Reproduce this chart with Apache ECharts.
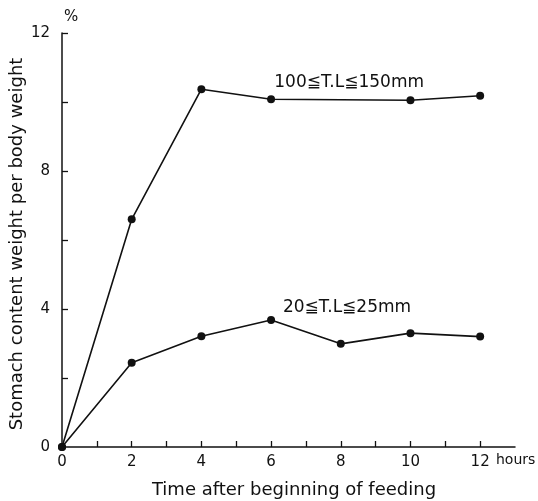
<!DOCTYPE html>
<html>
<head>
<meta charset="utf-8">
<script src="https://cdn.jsdelivr.net/npm/echarts@6/dist/echarts.min.js"></script>
<style>html,body{margin:0;padding:0;background:#fff;}#c{width:538px;height:501px;}</style>
</head>
<body>
<div id="c"></div>
<script>
const hours = [0, 2, 4, 6, 10, 12];
const large = [0, 6.6, 10.37, 10.08, 10.05, 10.18];
const hoursSmall = [0, 2, 4, 6, 8, 10, 12];
const small = [0, 2.44, 3.21, 3.68, 2.99, 3.3, 3.2];
const xTickValues = [1,2,3,4,5,6,7,8,9,10,11,12];
const xLabelValues = [0,2,4,6,8,10,12];
const yTickValues = [2,4,6,8,10,12];
const yLabelValues = [0,4,8,12];
const largeLabel = '100≦T.L≦150mm';
const smallLabel = '20≦T.L≦25mm';
const xTitle = 'Time after beginning of feeding';
const yTitle = 'Stomach content weight per body weight';

const font = 'DejaVu Sans';
const chart = echarts.init(document.getElementById('c'));
function lineSeries(xs, ys, label, coord) {
  return {
    type: 'line',
    data: xs.map((x, i) => [x, ys[i]]),
    symbol: 'circle',
    symbolSize: 8,
    showSymbol: true,
    lineStyle: { color: '#111', width: 1.6 },
    itemStyle: { color: '#111' },
    silent: true,
    animation: false,
    markPoint: {
      symbol: 'circle', symbolSize: 0,
      label: { show: true, formatter: label, color: '#111', fontFamily: font, fontSize: 17, position: 'inside' },
      data: [{ coord: coord }]
    }
  };
}
chart.setOption({
  animation: false,
  grid: { left: 62, right: 23, top: 33, bottom: 54 },
  xAxis: {
    type: 'value', min: 0, max: 13, interval: 1,
    axisLine: { lineStyle: { color: '#111', width: 1.5 } },
    axisTick: { inside: true, length: 6, customValues: xTickValues, lineStyle: { color: '#111', width: 1.3 } },
    axisLabel: { customValues: xLabelValues, color: '#111', fontFamily: font, fontSize: 15, margin: 8 },
    splitLine: { show: false }
  },
  yAxis: {
    type: 'value', min: 0, max: 12, interval: 2,
    name: '%', nameLocation: 'end', nameGap: 8,
    nameTextStyle: { color: '#111', fontFamily: font, fontSize: 15, align: 'left', padding: [0, 0, 0, 2] },
    axisLine: { show: true, lineStyle: { color: '#111', width: 1.5 } },
    axisTick: { show: true, inside: true, length: 6, customValues: yTickValues, lineStyle: { color: '#111', width: 1.3 } },
    axisLabel: { customValues: yLabelValues, color: '#111', fontFamily: font, fontSize: 15, margin: 12 },
    splitLine: { show: false }
  },
  graphic: [
    { type: 'text', left: 496, top: 453, style: { text: 'hours', fill: '#111', font: '14px "DejaVu Sans"' } },
    { type: 'text', x: 294, y: 490, style: { text: xTitle, fill: '#111', font: '18px "DejaVu Sans"', textAlign: 'center', textVerticalAlign: 'middle' } },
    { type: 'text', x: 17, y: 244, rotation: Math.PI / 2, style: { text: yTitle, fill: '#111', font: '18px "DejaVu Sans"', textAlign: 'center', textVerticalAlign: 'middle' } }
  ],
  series: [
    lineSeries(hours, large, largeLabel, [8.24, 10.55]),
    lineSeries(hoursSmall, small, smallLabel, [8.18, 4.03])
  ]
});
</script>
</body>
</html>
